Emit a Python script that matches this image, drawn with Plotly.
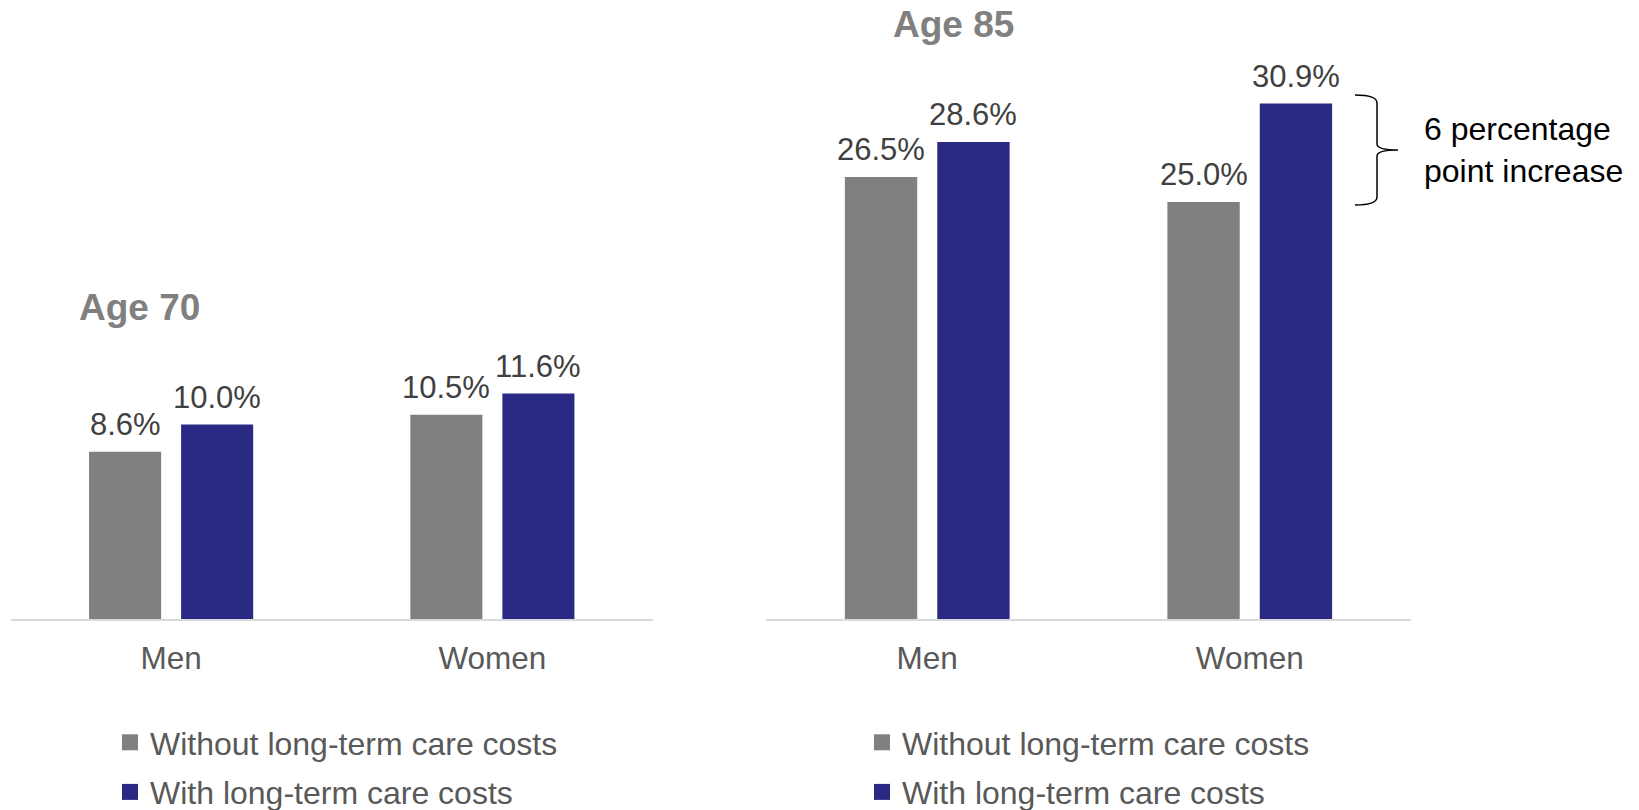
import plotly.graph_objects as go

# Share of people whose resources fall short, by age, sex and cost scenario
categories = ["Men", "Women"]
series_names = ["Without long-term care costs", "With long-term care costs"]
age70_without = [8.6, 10.5]
age70_with = [10.0, 11.6]
age85_without = [26.5, 25.0]
age85_with = [28.6, 30.9]
panel_titles = ["Age 70", "Age 85"]
brace_text = "6 percentage<br>point increase"

GRAY = "#808080"
NAVY = "#2a2a84"
FONT = "Liberation Sans, Arial, sans-serif"
W, H = 1639, 810
BARGAP, GROUPGAP = 0.427, 0.217


def px_x(x):
    return x / W


def px_y(y):
    return 1 - y / H


fig = go.Figure()

# (x axis, y axis, legend, series, x-domain in px)
panels = [
    ("x", "y", "legend", age70_without, age70_with, (10.5, 653)),
    ("x2", "y2", "legend2", age85_without, age85_with, (766, 1411)),
]
for xa, ya, leg, without, with_, dom in panels:
    unit = (dom[1] - dom[0]) / 2            # px per category
    slot = (1 - BARGAP) * unit / 2           # px per bar slot in a group
    for k, (name, vals, color) in enumerate([(series_names[0], without, GRAY),
                                             (series_names[1], with_, NAVY)]):
        fig.add_trace(go.Bar(
            x=categories, y=vals, name=name, xaxis=xa, yaxis=ya,
            marker=dict(color=color, line=dict(width=0)),
            showlegend=False, hoverinfo="skip",
        ))
        # value labels above each bar
        for cat, v in zip(categories, vals):
            fig.add_annotation(
                x=cat, y=v, xref=xa, yref=ya, text=f"{v:.1f}%",
                showarrow=False, xanchor="center", yanchor="middle",
                xshift=(k - 0.5) * slot, yshift=27,
                font=dict(family=FONT, size=31, color="#404040"),
            )
        # legend swatch
        fig.add_trace(go.Scatter(
            x=[None], y=[None], mode="markers", name=name, xaxis=xa, yaxis=ya,
            marker=dict(symbol="square", size=16, color=color),
            legend=leg, legendgroup=leg + name, showlegend=True,
        ))

y_bottom = px_y(619)
y_top = px_y(60)
axis_common = dict(
    showgrid=False, zeroline=False, showline=True, linecolor="#d9d9d9",
    linewidth=1.5, ticks="", ticklabelstandoff=10,
    tickfont=dict(family=FONT, size=31.5, color="#595959"),
    range=[-0.5, 1.5], fixedrange=True,
)
yaxis_common = dict(visible=False, showgrid=False, zeroline=False, fixedrange=True)

legend_common = dict(
    orientation="v", xanchor="left", yanchor="top", bgcolor="rgba(0,0,0,0)",
    font=dict(family=FONT, size=32, color="#595959"), tracegroupgap=5,
    itemclick=False, itemdoubleclick=False,
)

fig.update_layout(
    width=W, height=H,
    margin=dict(l=0, r=0, t=0, b=0, autoexpand=False),
    paper_bgcolor="white", plot_bgcolor="white",
    bargap=BARGAP, bargroupgap=GROUPGAP, barmode="group",
    xaxis=dict(domain=[px_x(10.5), px_x(653)], anchor="y", **axis_common),
    yaxis=dict(domain=[y_bottom, y_top], anchor="x", range=[0, 28.74], **yaxis_common),
    xaxis2=dict(domain=[px_x(766), px_x(1411)], anchor="y2", **axis_common),
    yaxis2=dict(domain=[y_bottom, y_top], anchor="x2", range=[0, 33.51], **yaxis_common),
    legend=dict(x=px_x(110), y=px_y(715), **legend_common),
    legend2=dict(x=px_x(862), y=px_y(715), **legend_common),
    showlegend=True,
)

# Panel titles
fig.add_annotation(text=f"<b>{panel_titles[0]}</b>", xref="paper", yref="paper",
                   x=px_x(139), y=px_y(308), xanchor="center", yanchor="middle",
                   showarrow=False, font=dict(family=FONT, size=37, color=GRAY))
fig.add_annotation(text=f"<b>{panel_titles[1]}</b>", xref="paper", yref="paper",
                   x=px_x(953), y=px_y(24), xanchor="center", yanchor="middle",
                   showarrow=False, font=dict(family=FONT, size=37, color=GRAY))

# Curly brace spanning the women's gap at age 85
bx0, bx1, btip = 1355, 1377, 1398
by0, by1 = 95, 205
bym = (by0 + by1) / 2


def P(x, y):
    return f"{px_x(x):.5f},{px_y(y):.5f}"


brace = (f"M{P(bx0, by0)} Q{P(bx1, by0)} {P(bx1, by0 + 8)} "
         f"L{P(bx1, bym - 6)} Q{P(bx1, bym)} {P(btip, bym)} "
         f"Q{P(bx1, bym)} {P(bx1, bym + 6)} "
         f"L{P(bx1, by1 - 8)} Q{P(bx1, by1)} {P(bx0, by1)}")
fig.add_shape(type="path", path=brace, xref="paper", yref="paper",
              line=dict(color="black", width=1.5))
fig.add_annotation(text=brace_text, xref="paper", yref="paper",
                   x=px_x(1422), y=px_y(150), xanchor="left", yanchor="middle",
                   align="left", showarrow=False,
                   font=dict(family=FONT, size=32, color="black"))

fig.write_html("out.html")
